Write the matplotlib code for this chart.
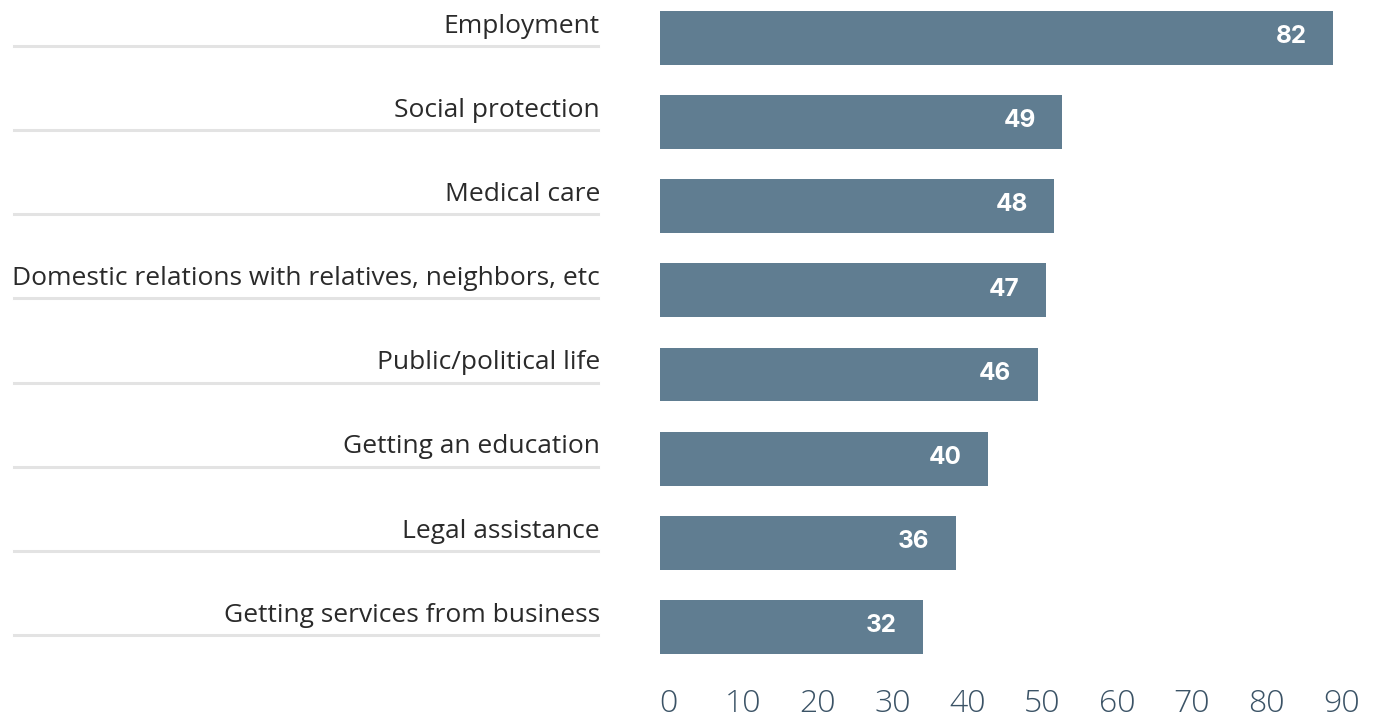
import matplotlib
matplotlib.use('Agg')
import matplotlib.pyplot as plt
import matplotlib.transforms as mtransforms
from matplotlib.lines import Line2D

# data
categories = ['Employment', 'Social protection', 'Medical care',
              'Domestic relations with relatives, neighbors, etc',
              'Public/political life', 'Getting an education',
              'Legal assistance', 'Getting services from business']
values = [82, 49, 48, 47, 46, 40, 36, 32]
tick_values = [0, 10, 20, 30, 40, 50, 60, 70, 80, 90]

W, H = 1379, 719
fig = plt.figure(figsize=(W / 100, H / 100), dpi=100)
fig.patch.set_facecolor('white')

# bar axes: from x=660px to right edge, rows spaced ~84px
ax = fig.add_axes([660 / W, 1 - 669 / H, 719 / W, 669 / H])
ypos = list(range(len(categories)))
ax.barh(ypos, values, height=0.64, color='#607d91')
ax.set_xlim(0, 719 / 8.21)
ax.set_ylim(7.5, -0.452)
ax.axis('off')

# value labels inside bar ends
for y, v in zip(ypos, values):
    ax.annotate(str(v), xy=(v, y), xytext=(-19, 1), textcoords='offset points',
                ha='right', va='center', color='white', fontsize=17.5,
                fontweight='bold', family=['Inter', 'DejaVu Sans'])

# category labels + grey underline on the left
trans = mtransforms.blended_transform_factory(fig.transFigure, ax.transData)
for y, cat in zip(ypos, categories):
    fig.text(600 / W, y - 0.14, cat, transform=trans, ha='right', va='center',
             fontsize=19, color='#2a2a2a', family=['Open Sans', 'DejaVu Sans'])
    fig.add_artist(Line2D([14 / W, 598 / W], [y + 0.095, y + 0.095], transform=trans,
                          color='#e3e3e3', linewidth=2.2))

# tick labels on their own scale (spread wider than bars in the original)
tax = fig.add_axes([660 / W, 1 - 669 / H, 719 / W, 669 / H], frameon=False)
tax.set_xlim(-8 / 7.48, (W - 668) / 7.48)
tax.set_ylim(0, 1)
tax.set_yticks([])
tax.set_xticks(tick_values)
tax.set_xticklabels([str(t) for t in tick_values], fontsize=23, color='#3b5366',
                    family=['Open Sans', 'DejaVu Sans'], fontweight=300)
tax.tick_params(axis='x', length=0, pad=14)

fig.savefig('out.png', dpi=100)
